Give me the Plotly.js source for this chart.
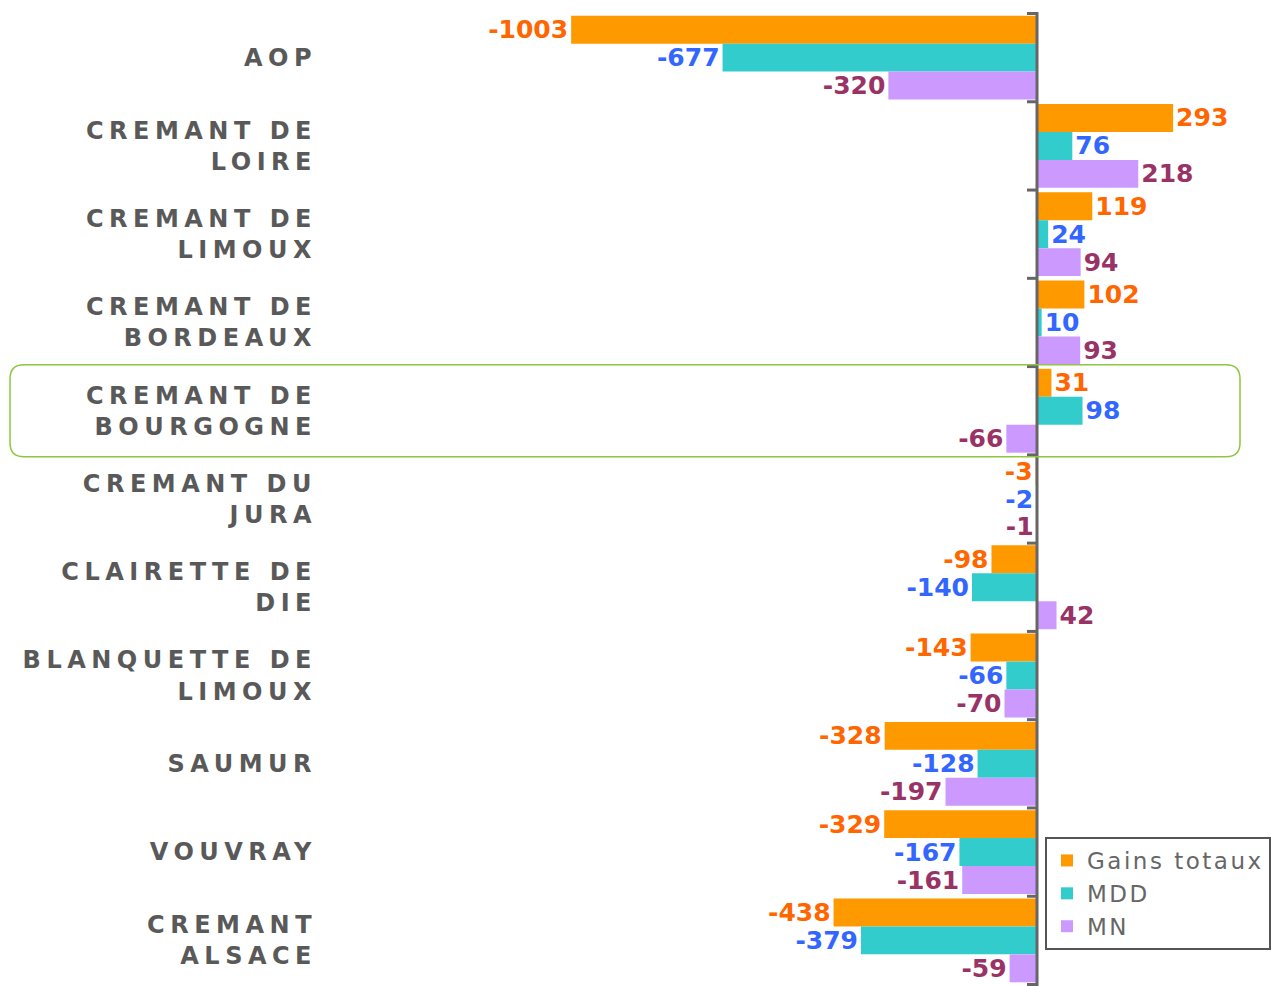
<!DOCTYPE html>
<html>
<head>
<meta charset="utf-8">
<script src="https://cdn.plot.ly/plotly-3.0.1.min.js"></script>
<style>
  html, body { margin: 0; padding: 0; background: #fff; }
  #chart { width: 1279px; height: 986px; }
  .ytick text { letter-spacing: 5.5px; }
  .legendtext { letter-spacing: 2.5px; }
</style>
</head>
<body>
<div id="chart"></div>
<script>
// ---- data ----
const categories = [
  'AOP',
  'CREMANT DE<br>LOIRE',
  'CREMANT DE<br>LIMOUX',
  'CREMANT DE<br>BORDEAUX',
  'CREMANT DE<br>BOURGOGNE',
  'CREMANT DU<br>JURA',
  'CLAIRETTE DE<br>DIE',
  'BLANQUETTE DE<br>LIMOUX',
  'SAUMUR',
  'VOUVRAY',
  'CREMANT<br>ALSACE'
];
const seriesNames = ['Gains totaux', 'MDD', 'MN'];
const gainsTotaux = [-1003, 293, 119, 102, 31, -3, -98, -143, -328, -329, -438];
const mdd        = [-677, 76, 24, 10, 98, -2, -140, -66, -128, -167, -379];
const mn         = [-320, 218, 94, 93, -66, -1, 42, -70, -197, -161, -59];
const highlighted = 'CREMANT DE<br>BOURGOGNE';

// ---- styles ----
const barColors = ['#FF9900', '#33CCCC', '#CC99FF'];
const labelColors = ['#FF6600', '#3366FF', '#993366'];
const xRange = [-1548, 521];

const values = [gainsTotaux, mdd, mn];
const traces = values.map((vals, i) => ({
  type: 'bar',
  orientation: 'h',
  name: seriesNames[i],
  y: categories,
  x: vals,
  text: vals.map(v => String(v)),
  textposition: 'outside',
  constraintext: 'none',
  cliponaxis: false,
  textfont: { family: 'DejaVu Sans', size: 25, color: labelColors[i], weight: 'bold' },
  marker: { color: barColors[i], line: { width: 0 } },
  hoverinfo: 'none'
}));

const shapes = [];
// axis line at zero
shapes.push({
  type: 'line', xref: 'x', yref: 'paper', x0: 0, x1: 0, y0: 0, y1: 1,
  line: { color: '#666666', width: 3 }, layer: 'above'
});
// tick marks at category boundaries
for (let i = 0; i <= categories.length; i++) {
  shapes.push({
    type: 'line', xref: 'x', yref: 'y',
    xsizemode: 'pixel', xanchor: 0, x0: -10, x1: 0,
    y0: i - 0.5, y1: i - 0.5,
    line: { color: '#666666', width: 3 }, layer: 'above'
  });
}
// rounded highlight box around one category
const zeroPaper = (0 - xRange[0]) / (xRange[1] - xRange[0]);
const hi = categories.indexOf(highlighted);
const L = -1027, R = 203, H = 46, r = 14;
const path = `M ${L + r},${-H} L ${R - r},${-H} Q ${R},${-H} ${R},${-H + r} L ${R},${H - r} Q ${R},${H} ${R - r},${H} ` +
             `L ${L + r},${H} Q ${L},${H} ${L},${H - r} L ${L},${-H + r} Q ${L},${-H} ${L + r},${-H} Z`;
shapes.push({
  type: 'path', xref: 'paper', yref: 'y',
  xsizemode: 'pixel', ysizemode: 'pixel',
  xanchor: zeroPaper, yanchor: hi,
  path: path,
  line: { color: '#8DC63F', width: 1.5 },
  fillcolor: 'rgba(0,0,0,0)', layer: 'above'
});

const layout = {
  width: 1279, height: 986,
  margin: { l: 318, r: 0, t: 12, b: 0, autoexpand: false },
  paper_bgcolor: '#ffffff', plot_bgcolor: '#ffffff',
  barmode: 'group', bargap: 0.05, bargroupgap: 0,
  showlegend: true,
  legend: {
    x: 0.7565, y: 0.153, xanchor: 'left', yanchor: 'top',
    bgcolor: '#ffffff', bordercolor: '#555555', borderwidth: 2,
    font: { family: 'DejaVu Sans', size: 23, color: '#666666' },
    traceorder: 'normal'
  },
  xaxis: {
    range: xRange, visible: false, showgrid: false, zeroline: false, fixedrange: true
  },
  yaxis: {
    type: 'category', autorange: 'reversed',
    showgrid: false, zeroline: false, showline: false, ticks: '',
    tickfont: { family: 'DejaVu Sans', size: 24, color: '#595959', weight: 'bold' },
    fixedrange: true
  },
  shapes: shapes,
  hovermode: false
};

Plotly.newPlot('chart', traces, layout, { displayModeBar: false, staticPlot: true });
</script>
</body>
</html>
